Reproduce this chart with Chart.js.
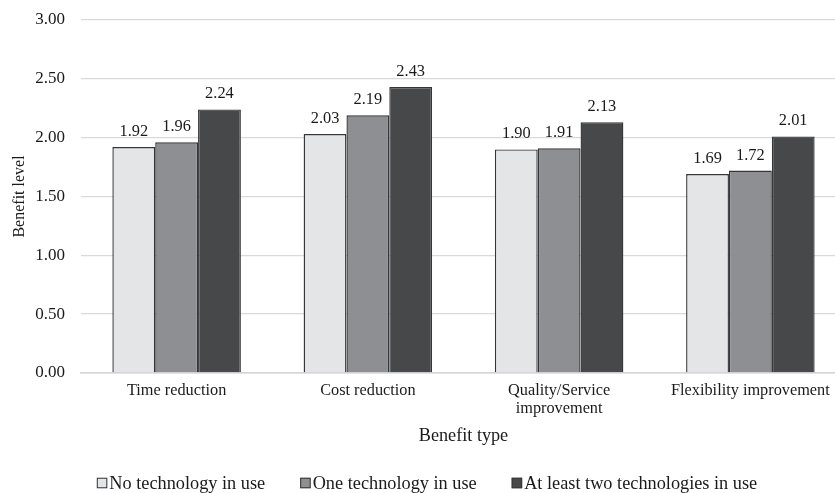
<!DOCTYPE html>
<html><head><meta charset="utf-8">
<script src="https://cdn.jsdelivr.net/npm/chart.js@4"></script>
<style>
html,body{margin:0;padding:0;overflow:hidden;background:#fff;}
#wrap{position:relative;width:846px;height:493px;}
</style></head>
<body><div id="wrap"><canvas id="c"></canvas></div>
<script>
const categories = ["Time reduction", "Cost reduction", ["Quality/Service", "improvement"], "Flexibility improvement"];
const seriesNames = ["No technology in use", "One technology in use", "At least two technologies in use"];
const noTech = [1.92, 2.03, 1.90, 1.69];
const oneTech = [1.96, 2.19, 1.91, 1.72];
const twoTech = [2.24, 2.43, 2.13, 2.01];
const yTicks = [0, 0.5, 1.0, 1.5, 2.0, 2.5, 3.0];

const FONT = "'Liberation Serif', 'Times New Roman', serif";
const TEXT = "#1a1a1a";
const colors = ["#e4e5e7", "#8e8f92", "#47484a"];
const BORDER = "#363638";

const valueLabels = {
  id: 'valueLabels',
  afterDatasetsDraw(chart) {
    const ctx = chart.ctx;
    ctx.save();
    ctx.font = "16.4px " + FONT;
    ctx.fillStyle = TEXT;
    ctx.textAlign = "center";
    ctx.textBaseline = "alphabetic";
    chart.data.datasets.forEach((ds, i) => {
      chart.getDatasetMeta(i).data.forEach((bar, j) => {
        ctx.fillText(ds.data[j].toFixed(2), bar.x, bar.y - 11);
      });
    });
    ctx.restore();
  }
};

// legend drawn below the axis title, centred under the chart
const bottomLegend = {
  id: 'bottomLegend',
  afterDraw(chart) {
    const ctx = chart.ctx;
    ctx.save();
    ctx.font = "18.3px " + FONT;
    ctx.textBaseline = "middle";
    ctx.textAlign = "left";
    const box = 10.5, gapText = 2, gapItem = 35;
    const items = chart.data.datasets.map(ds => ({ text: ds.label, color: ds.backgroundColor, w: ctx.measureText(ds.label).width }));
    const total = items.reduce((s, it) => s + box + gapText + it.w, 0) + gapItem * (items.length - 1);
    let x = 427 - total / 2;
    const cy = chart.height - 10;
    items.forEach(it => {
      ctx.fillStyle = it.color;
      ctx.strokeStyle = BORDER;
      ctx.lineWidth = 1;
      ctx.fillRect(x, cy - box / 2, box, box);
      ctx.strokeRect(x + 0.5, cy - box / 2 + 0.5, box - 1, box - 1);
      x += box + gapText;
      ctx.fillStyle = TEXT;
      ctx.fillText(it.text, x, cy + 1);
      x += it.w + gapItem;
    });
    ctx.restore();
  }
};

const datasets = [noTech, oneTech, twoTech].map((d, i) => ({
  label: seriesNames[i],
  data: d,
  backgroundColor: colors[i],
  borderColor: BORDER,
  borderWidth: 1.4,
  categoryPercentage: 0.672,
  barPercentage: 1.0
}));

new Chart(document.getElementById('c'), {
  type: 'bar',
  data: { labels: categories, datasets },
  plugins: [valueLabels, bottomLegend],
  options: {
    responsive: true,
    maintainAspectRatio: false,
    animation: false,
    layout: { padding: { top: 20, left: 0, right: 0, bottom: 48 } },
    plugins: {
      legend: { display: false },
      tooltip: { enabled: false }
    },
    scales: {
      x: {
        grid: { display: false, drawTicks: false },
        border: { display: true, color: "#d4d4d4", width: 1.5 },
        ticks: { font: { family: FONT, size: 16.3, lineHeight: 1.1 }, color: TEXT, padding: 9, maxRotation: 0, autoSkip: false },
        title: { display: true, text: "Benefit type", font: { family: FONT, size: 18.2, lineHeight: 1.0 }, color: TEXT, padding: { top: 0, bottom: 0 } }
      },
      y: {
        min: 0, max: 3,
        afterBuildTicks(scale) { scale.ticks = yTicks.map(v => ({ value: v })); },
        afterFit(scale) { scale.width = 81; scale.paddingTop = 0; scale.paddingBottom = 0; },
        grid: { color: "#d9d9d9", lineWidth: 1.3, drawTicks: false },
        border: { display: false },
        ticks: { font: { family: FONT, size: 17 }, color: TEXT, padding: 16, callback: v => v.toFixed(2) },
        title: { display: true, text: "Benefit level", font: { family: FONT, size: 16 }, color: TEXT, padding: { top: 10, bottom: 0 } }
      }
    }
  }
});
</script></body></html>
